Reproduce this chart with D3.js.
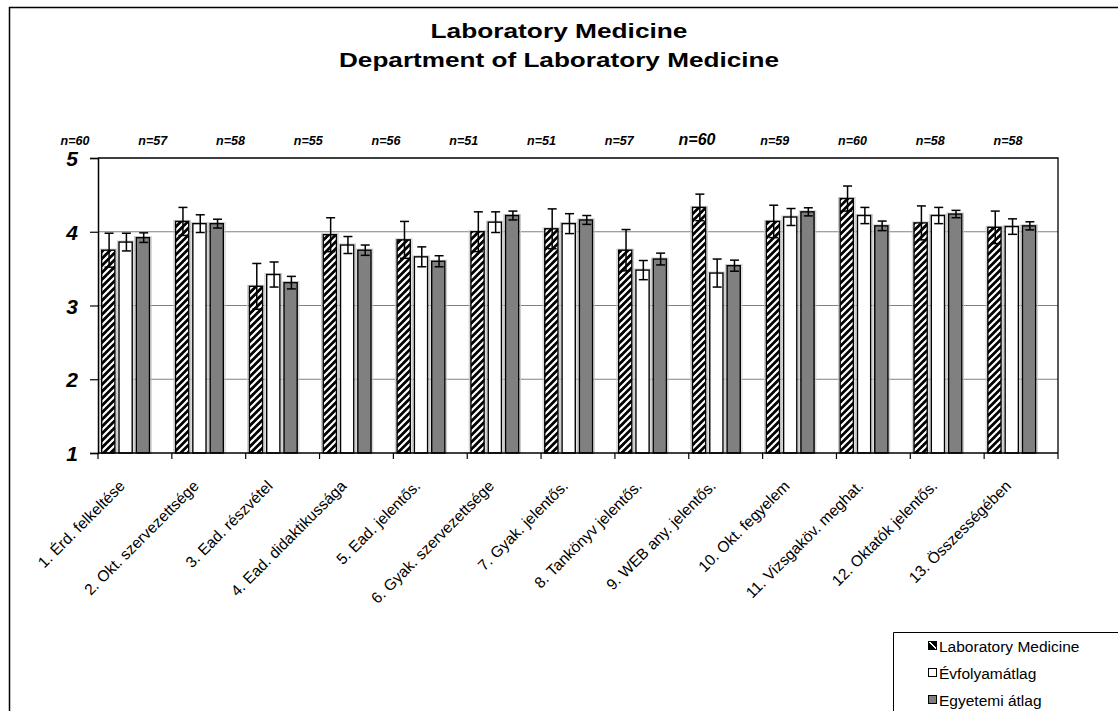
<!DOCTYPE html>
<html>
<head>
<meta charset="utf-8">
<script src="https://cdn.jsdelivr.net/npm/d3@7"></script>
<style>
  body { margin: 0; background: #fff; }
  svg { display: block; font-family: "Liberation Sans", Arial, sans-serif; }
</style>
</head>
<body>
<div id="chart"></div>
<script>
const categories = [
  "1. Érd. felkeltése", "2. Okt. szervezettsége", "3. Ead. részvétel",
  "4. Ead. didaktikussága", "5. Ead. jelentős.", "6. Gyak. szervezettsége",
  "7. Gyak. jelentős.", "8. Tankönyv jelentős.", "9. WEB any. jelentős.",
  "10. Okt. fegyelem", "11. Vizsgaköv. meghat.", "12. Oktatók jelentős.",
  "13. Összességében"
];
const nLabels = ["n=60", "n=57", "n=58", "n=55", "n=56", "n=51", "n=51",
  "n=57", "n=60", "n=59", "n=60", "n=58", "n=58"];
const seriesNames = ["Laboratory Medicine", "Évfolyamátlag", "Egyetemi átlag"];

const labMed = [3.75, 4.14, 3.26, 3.96, 3.89, 4.00, 4.04, 3.75, 4.33, 4.14, 4.45, 4.12, 4.06];
const labMedErr = [0.23, 0.19, 0.31, 0.23, 0.25, 0.27, 0.27, 0.28, 0.18, 0.22, 0.17, 0.23, 0.22];
const evfolyam = [3.86, 4.11, 3.42, 3.82, 3.66, 4.13, 4.11, 3.48, 3.44, 4.20, 4.22, 4.22, 4.07];
const evfolyamErr = [0.12, 0.12, 0.17, 0.115, 0.135, 0.14, 0.135, 0.13, 0.19, 0.115, 0.11, 0.11, 0.105];
const egyetemi = [3.92, 4.11, 3.31, 3.75, 3.60, 4.22, 4.16, 3.63, 3.54, 4.27, 4.08, 4.24, 4.08];
const egyetemiErr = [0.065, 0.06, 0.085, 0.07, 0.075, 0.06, 0.06, 0.08, 0.075, 0.055, 0.065, 0.05, 0.055];
const yTicks = [1, 2, 3, 4, 5];

const width = 1118, height = 711;
const plotLeft = 98, plotRight = 1058, plotTop = 158, plotBottom = 453;

const svg = d3.select("#chart").append("svg")
  .attr("width", width).attr("height", height);

// hatch pattern
const defs = svg.append("defs");
const pat = defs.append("pattern")
  .attr("id", "hatch")
  .attr("patternUnits", "userSpaceOnUse")
  .attr("width", 7).attr("height", 7);
pat.append("rect").attr("width", 7).attr("height", 7).attr("fill", "#000");
pat.append("path")
  .attr("d", "M-1,8 L8,-1 M-1,1 L1,-1 M6,8 L8,6")
  .attr("stroke", "#fff").attr("stroke-width", 2.2);

const lpat = defs.append("linearGradient").attr("id", "legHatch")
  .attr("x1", 0).attr("y1", 1).attr("x2", 1).attr("y2", 0);
lpat.append("stop").attr("offset", "0.5").attr("stop-color", "#000");
lpat.append("stop").attr("offset", "0.5").attr("stop-color", "#fff");
lpat.append("stop").attr("offset", "0.62").attr("stop-color", "#fff");
lpat.append("stop").attr("offset", "0.62").attr("stop-color", "#000");

// outer chart border (only top and left visible)
svg.append("path")
  .attr("d", `M9.5,${height} V7.5 H${width}`)
  .attr("fill", "none").attr("stroke", "#000").attr("stroke-width", 1.5);

// title
const title = svg.append("g").attr("font-weight", "bold").attr("font-size", 21)
  .attr("text-anchor", "middle");
title.append("text").attr("x", 559).attr("y", 37.5)
  .attr("textLength", 257).attr("lengthAdjust", "spacingAndGlyphs")
  .text("Laboratory Medicine");
title.append("text").attr("x", 559).attr("y", 67)
  .attr("textLength", 440).attr("lengthAdjust", "spacingAndGlyphs")
  .text("Department of Laboratory Medicine");

const x = d3.scaleBand().domain(categories).range([plotLeft, plotRight]).padding(0);
const xs = d3.scaleBand().domain(seriesNames).range([3, 52.2]).paddingInner(0.156).paddingOuter(0);
const y = d3.scaleLinear().domain([1, 5]).range([plotBottom, plotTop]);

// gridlines
svg.append("g").selectAll("line").data(yTicks.filter(d => d > 1 && d < 5)).join("line")
  .attr("x1", plotLeft).attr("x2", plotRight)
  .attr("y1", d => y(d)).attr("y2", d => y(d))
  .attr("stroke", "#808080").attr("stroke-width", 1);

// plot border top/right
svg.append("path")
  .attr("d", `M${plotLeft},${plotTop} H${plotRight} V${plotBottom}`)
  .attr("fill", "none").attr("stroke", "#000").attr("stroke-width", 1.3);

// bars
const seriesVals = [labMed, evfolyam, egyetemi];
const seriesErr = [labMedErr, evfolyamErr, egyetemiErr];
const fills = ["url(#hatch)", "#fff", "#808080"];

const barData = [];
categories.forEach((c, i) => {
  seriesNames.forEach((s, j) => {
    barData.push({ cat: c, ser: s, j: j, v: seriesVals[j][i], e: seriesErr[j][i] });
  });
});

const bars = svg.append("g");
bars.selectAll("rect.shadow").data(barData).join("rect")
  .attr("class", "shadow")
  .attr("x", d => x(d.cat) + xs(d.ser) - 1)
  .attr("y", d => y(d.v) - 1)
  .attr("width", xs.bandwidth() + 2)
  .attr("height", d => y(1) - y(d.v) + 1)
  .attr("fill", "none").attr("stroke", "#c8c8c8").attr("stroke-width", 1);
bars.selectAll("rect.bar").data(barData).join("rect")
  .attr("class", "bar")
  .attr("x", d => x(d.cat) + xs(d.ser) + 0.7)
  .attr("y", d => y(d.v))
  .attr("width", xs.bandwidth() - 1.4)
  .attr("height", d => y(1) - y(d.v))
  .attr("fill", d => fills[d.j])
  .attr("stroke", "#000").attr("stroke-width", 1.4);

// error bars
const err = svg.append("g").attr("stroke", "#000").attr("stroke-width", 1.5);
const cx = d => x(d.cat) + xs(d.ser) + xs.bandwidth() / 2 + 0.8;
err.selectAll("line.v").data(barData).join("line")
  .attr("class", "v")
  .attr("x1", cx).attr("x2", cx)
  .attr("y1", d => y(d.v + d.e)).attr("y2", d => y(d.v - d.e));
err.selectAll("line.t").data(barData).join("line")
  .attr("class", "t")
  .attr("x1", d => cx(d) - 4.5).attr("x2", d => cx(d) + 4.5)
  .attr("y1", d => y(d.v + d.e)).attr("y2", d => y(d.v + d.e));
err.selectAll("line.b").data(barData).join("line")
  .attr("class", "b")
  .attr("x1", d => cx(d) - 4.5).attr("x2", d => cx(d) + 4.5)
  .attr("y1", d => y(d.v - d.e)).attr("y2", d => y(d.v - d.e));

// y axis
const yAxis = svg.append("g").attr("transform", `translate(${plotLeft},0)`)
  .call(d3.axisLeft(y).tickValues(yTicks).tickSize(8).tickFormat(d3.format("d")));
yAxis.select(".domain").attr("stroke-width", 1.5);
yAxis.selectAll(".tick line").attr("stroke-width", 1.2);
yAxis.selectAll(".tick text")
  .attr("x", -20).attr("dy", "0.36em")
  .attr("font-size", 21).attr("font-weight", "bold").attr("font-style", "italic")
  .attr("font-family", "'Liberation Sans', Arial, sans-serif").attr("fill", "#000");

// x axis
const xAxis = svg.append("g").attr("transform", `translate(0,${plotBottom})`);
xAxis.append("line").attr("x1", plotLeft).attr("x2", plotRight).attr("y1", 0).attr("y2", 0)
  .attr("stroke", "#000").attr("stroke-width", 1.5);
xAxis.selectAll("line.tk").data(categories.concat([null])).join("line")
  .attr("class", "tk")
  .attr("x1", (d, i) => plotLeft + i * x.step()).attr("x2", (d, i) => plotLeft + i * x.step())
  .attr("y1", 0).attr("y2", 6)
  .attr("stroke", "#000").attr("stroke-width", 1.2);

svg.append("g").selectAll("text").data(categories).join("text")
  .attr("transform", d => `translate(${x(d) + x.bandwidth() / 2 - 9},487) rotate(-45)`)
  .attr("text-anchor", "end")
  .attr("font-size", 15.5)
  .text(d => d);

// n labels
const nx = d3.scalePoint().domain(categories).range([75, 1008]);
svg.append("g").selectAll("text").data(nLabels).join("text")
  .attr("x", (d, i) => nx(categories[i]))
  .attr("y", 144.5)
  .attr("text-anchor", "middle")
  .attr("font-weight", "bold").attr("font-style", "italic")
  .attr("font-size", (d, i) => i === 8 ? 16 : 12.5)
  .text(d => d);

// legend
const lg = svg.append("g");
lg.append("path").attr("d", `M${width},632.5 H893.5 V${height}`)
  .attr("fill", "none").attr("stroke", "#000").attr("stroke-width", 1);
const lgFills = ["url(#legHatch)", "#fff", "#808080"];
const rows = lg.selectAll("g.row").data(seriesNames).join("g")
  .attr("class", "row")
  .attr("transform", (d, i) => `translate(928,${646 + i * 27})`);
rows.append("rect").attr("x", 0.5).attr("y", -4.5).attr("width", 8).attr("height", 8)
  .attr("fill", (d, i) => lgFills[i])
  .attr("stroke", "#000").attr("stroke-width", 1);
rows.append("text").attr("x", 11).attr("y", 5.5).attr("font-size", 15.5).text(d => d);
</script>
</body>
</html>
